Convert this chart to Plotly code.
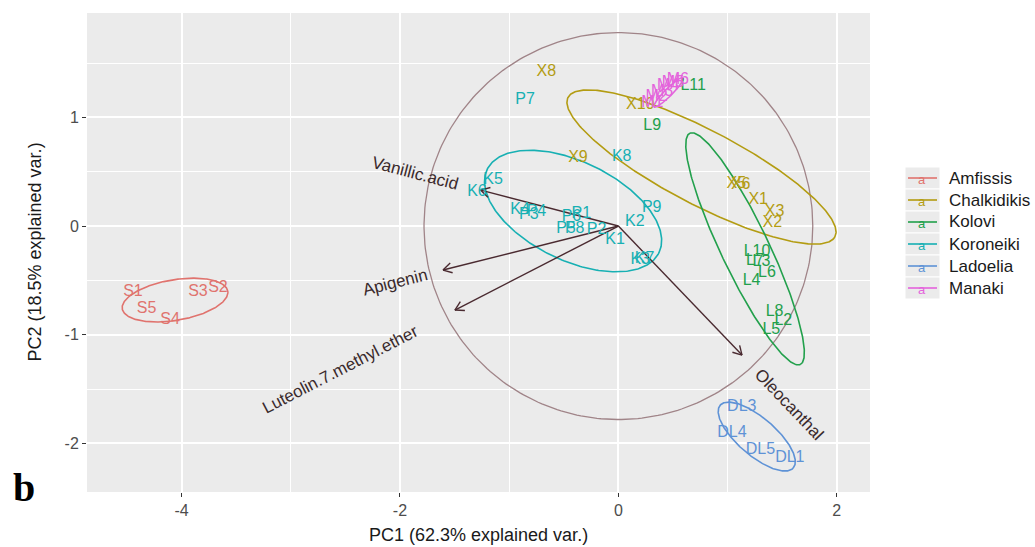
import numpy as np
import plotly.graph_objects as go

# ---------------- data ----------------
groups = ["Amfissis", "Chalkidikis", "Kolovi", "Koroneiki", "Ladoelia", "Manaki"]
group_colors = ["#E0736E", "#B39C12", "#22A04C", "#17B0B3", "#5E92D6", "#E463DC"]

# PCA scores per group (PC1, PC2) with sample labels
amfissis_labels = ["S1", "S2", "S3", "S4", "S5"]
amfissis_pc1 = [-4.445, -3.667, -3.85, -4.106, -4.32]
amfissis_pc2 = [-0.607, -0.570, -0.607, -0.865, -0.764]

chalkidikis_labels = ["X1", "X2", "X3", "X5", "X6", "X8", "X9", "X10"]
chalkidikis_pc1 = [1.28, 1.41, 1.43, 1.08, 1.12, -0.66, -0.37, 0.20]
chalkidikis_pc2 = [0.24, 0.03, 0.13, 0.39, 0.38, 1.42, 0.625, 1.11]

kolovi_labels = ["L2", "L3", "L4", "L5", "L6", "L7", "L8", "L9", "L10", "L11"]
kolovi_pc1 = [1.51, 1.31, 1.22, 1.40, 1.36, 1.25, 1.43, 0.31, 1.27, 0.685]
kolovi_pc2 = [-0.87, -0.33, -0.51, -0.96, -0.43, -0.32, -0.79, 0.92, -0.24, 1.29]

koroneiki_labels = ["K1", "K2", "K3", "K4", "K5", "K6", "K7", "K8",
                    "P1", "P2", "P3", "P4", "P5", "P6", "P7", "P8", "P9"]
koroneiki_pc1 = [-0.03, 0.15, 0.20, -0.90, -1.148, -1.295, 0.24, 0.03,
                 -0.34, -0.20, -0.82, -0.75, -0.48, -0.43, -0.855, -0.40, 0.305]
koroneiki_pc2 = [-0.13, 0.04, -0.31, 0.15, 0.423, 0.313, -0.30, 0.635,
                 0.11, -0.04, 0.10, 0.13, -0.03, 0.08, 1.16, -0.03, 0.165]

ladoelia_labels = ["DL1", "DL3", "DL4", "DL5"]
ladoelia_pc1 = [1.57, 1.13, 1.04, 1.30]
ladoelia_pc2 = [-2.13, -1.665, -1.90, -2.06]

manaki_labels = ["M1", "M2", "M3", "M4", "M5", "M6"]
manaki_pc1 = [0.31, 0.35, 0.40, 0.455, 0.50, 0.545]
manaki_pc2 = [1.13, 1.19, 1.23, 1.29, 1.32, 1.34]

# normal-probability ellipses per group: centre, semi-axes, rotation (deg)
ellipse_cx = [-4.06, 0.761, 1.16, -0.415, 1.267, 0.46]
ellipse_cy = [-0.681, 0.543, -0.21, 0.138, -1.937, 1.23]
ellipse_a = [0.49, 1.38, 1.178, 0.875, 0.442, 0.19]
ellipse_b = [0.187, 0.343, 0.22, 0.453, 0.173, 0.035]
ellipse_angle = [9.6, -27.7, -64.6, -26.0, -40.8, 45.0]

# variable loadings (arrow tips)
var_names = ["Vanillic.acid", "Apigenin", "Luteolin.7.methyl.ether", "Oleocanthal"]
var_pc1 = [-1.26, -1.606, -1.497, 1.132]
var_pc2 = [0.33, -0.405, -0.773, -1.187]

circle_radius = 1.78

x_ticks = [-4, -2, 0, 2]
y_ticks = [-2, -1, 0, 1]
x_title = "PC1 (62.3% explained var.)"
y_title = "PC2 (18.5% explained var.)"
panel_tag = "b"

# ---------------- layout geometry ----------------
W, H = 1035, 547
PL, PR, PT, PB = 87, 870, 13, 492
x_range = [-4.866, 2.304]
y_range = [-2.447, 1.96]
sx = (PR - PL) / (x_range[1] - x_range[0])
sy = (PB - PT) / (y_range[1] - y_range[0])

FONT = "Liberation Sans, Arial, sans-serif"


def px2paper(px, py):
    return (px - PL) / (PR - PL), (PB - py) / (PB - PT)


# Arial-compatible advance widths (em)
CHAR_W = {c: 0.556 for c in "abdeghnopqu0123456789"}
CHAR_W.update({"c": 0.5, "k": 0.5, "s": 0.5, "v": 0.5, "x": 0.5, "y": 0.5, "z": 0.5,
               "f": 0.278, "t": 0.278, "r": 0.333, "i": 0.222, "j": 0.222, "l": 0.222,
               "m": 0.833, "w": 0.722, ".": 0.278, "A": 0.667, "V": 0.667, "L": 0.556,
               "O": 0.778})


def text_width(s, size):
    return sum(CHAR_W.get(c, 0.556) for c in s) * size


fig = go.Figure()

# correlation circle
t = np.linspace(0, 2 * np.pi, 300)
fig.add_trace(go.Scatter(x=circle_radius * np.cos(t), y=circle_radius * np.sin(t),
                         mode="lines", line=dict(color="#A08488", width=1.3),
                         hoverinfo="skip", showlegend=False))

# group ellipses
for i, g in enumerate(groups):
    th = np.radians(ellipse_angle[i])
    ex = ellipse_a[i] * np.cos(t)
    ey = ellipse_b[i] * np.sin(t)
    xs = ellipse_cx[i] + ex * np.cos(th) - ey * np.sin(th)
    ys = ellipse_cy[i] + ex * np.sin(th) + ey * np.cos(th)
    fig.add_trace(go.Scatter(x=xs, y=ys, mode="lines",
                             line=dict(color=group_colors[i], width=1.6),
                             hoverinfo="skip", showlegend=False))

# loading arrows
arrow_color = "#4A2A30"
head_len = 10.0
for vx, vy in zip(var_pc1, var_pc2):
    fig.add_trace(go.Scatter(x=[0, vx], y=[0, vy], mode="lines",
                             line=dict(color=arrow_color, width=1.4),
                             hoverinfo="skip", showlegend=False))
    # arrowhead built in screen space
    dx, dy = vx * sx, -vy * sy
    n = np.hypot(dx, dy)
    ux, uy = dx / n, dy / n
    hx, hy = [], []
    for sgn in (1, -1):
        a = np.radians(30) * sgn
        rx = ux * np.cos(a) - uy * np.sin(a)
        ry = ux * np.sin(a) + uy * np.cos(a)
        hx += [vx - head_len * rx / sx, vx, None]
        hy += [vy + head_len * ry / sy, vy, None]
    fig.add_trace(go.Scatter(x=hx, y=hy, mode="lines",
                             line=dict(color=arrow_color, width=1.4),
                             hoverinfo="skip", showlegend=False))

# score labels
score_sets = [
    (amfissis_labels, amfissis_pc1, amfissis_pc2),
    (chalkidikis_labels, chalkidikis_pc1, chalkidikis_pc2),
    (kolovi_labels, kolovi_pc1, kolovi_pc2),
    (koroneiki_labels, koroneiki_pc1, koroneiki_pc2),
    (ladoelia_labels, ladoelia_pc1, ladoelia_pc2),
    (manaki_labels, manaki_pc1, manaki_pc2),
]
for i, (lab, xs, ys) in enumerate(score_sets):
    fig.add_trace(go.Scatter(x=xs, y=ys, text=lab, mode="text",
                             textfont=dict(family=FONT, size=16, color=group_colors[i]),
                             textposition="middle center",
                             name=groups[i], showlegend=False))

annotations = []

# variable names, rotated along their arrows and pushed past the tip
var_font = 17
for name, vx, vy in zip(var_names, var_pc1, var_pc2):
    dx, dy = vx * sx, -vy * sy
    n = np.hypot(dx, dy)
    ux, uy = dx / n, dy / n
    off = 0.75 * text_width(name, var_font)
    cx = vx + ux * off / sx
    cy = vy - uy * off / sy
    ang = np.degrees(np.arctan(vy / vx))
    annotations.append(dict(x=cx, y=cy, xref="x", yref="y", text=name, showarrow=False,
                            textangle=-ang, xanchor="center", yanchor="middle",
                            font=dict(family=FONT, size=var_font, color="#3A2A2C")))

# axis titles
tx, ty = px2paper((PL + PR) / 2, 535)
annotations.append(dict(x=tx, y=ty, xref="paper", yref="paper", text=x_title,
                        showarrow=False, xanchor="center", yanchor="middle",
                        font=dict(family=FONT, size=18, color="#1A1A1A")))
tx, ty = px2paper(34, (PT + PB) / 2)
annotations.append(dict(x=tx, y=ty, xref="paper", yref="paper", text=y_title,
                        showarrow=False, textangle=-90, xanchor="center", yanchor="middle",
                        font=dict(family=FONT, size=18, color="#1A1A1A")))

# panel tag
tx, ty = px2paper(24, 487)
annotations.append(dict(x=tx, y=ty, xref="paper", yref="paper", text="<b>%s</b>" % panel_tag,
                        showarrow=False, xanchor="center", yanchor="middle",
                        font=dict(family="Liberation Serif, Times New Roman, serif",
                                  size=40, color="#000000")))

# legend: grey key boxes with a line and an "a" glyph
shapes = []
leg_top = 178
leg_step = 22
for i, g in enumerate(groups):
    cy_px = leg_top + i * leg_step
    x0, y0 = px2paper(905, cy_px + 11)
    x1, y1 = px2paper(940, cy_px - 11)
    shapes.append(dict(type="rect", xref="paper", yref="paper", x0=x0, x1=x1, y0=y0, y1=y1,
                       fillcolor="#EBEBEB", line=dict(color="white", width=1), layer="below"))
    lx0, ly = px2paper(908, cy_px)
    lx1, _ = px2paper(937, cy_px)
    shapes.append(dict(type="line", xref="paper", yref="paper", x0=lx0, x1=lx1, y0=ly, y1=ly,
                       line=dict(color=group_colors[i], width=1.6)))
    ax_, ay_ = px2paper(922.5, cy_px + 1)
    annotations.append(dict(x=ax_, y=ay_, xref="paper", yref="paper", text="a", showarrow=False,
                            xanchor="center", yanchor="middle",
                            font=dict(family=FONT, size=13, color=group_colors[i])))
    tx, ty = px2paper(947, cy_px)
    annotations.append(dict(x=tx, y=ty, xref="paper", yref="paper", text=g, showarrow=False,
                            xanchor="left", yanchor="middle",
                            font=dict(family=FONT, size=17, color="#1A1A1A")))

axis_common = dict(showgrid=True, gridcolor="white", gridwidth=1.6, zeroline=False,
                   ticks="outside", ticklen=4, tickwidth=1.2, tickcolor="#333333",
                   tickfont=dict(family=FONT, size=16, color="#4D4D4D"),
                   showline=False)

fig.update_layout(
    width=W, height=H,
    margin=dict(l=PL, r=W - PR, t=PT, b=H - PB, autoexpand=False),
    paper_bgcolor="white", plot_bgcolor="#EBEBEB",
    showlegend=False,
    xaxis=dict(range=x_range, tickmode="array", tickvals=x_ticks,
               ticktext=[str(v) for v in x_ticks],
               minor=dict(dtick=1, tick0=0, showgrid=True, gridcolor="white", gridwidth=0.7),
               **axis_common),
    yaxis=dict(range=y_range, tickmode="array", tickvals=y_ticks,
               ticktext=[str(v) for v in y_ticks],
               minor=dict(dtick=0.5, tick0=0, showgrid=True, gridcolor="white", gridwidth=0.7),
               **axis_common),
    annotations=annotations,
    shapes=shapes,
)

fig.write_html("out.html")
